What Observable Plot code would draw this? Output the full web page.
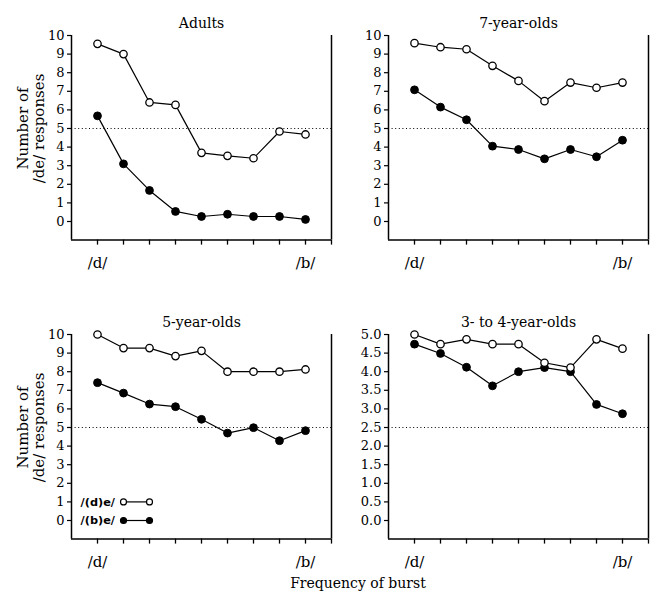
<!DOCTYPE html>
<html><head><meta charset="utf-8">
<script src="https://cdn.jsdelivr.net/npm/d3@7"></script>
<script src="https://cdn.jsdelivr.net/npm/@observablehq/plot@0.6"></script>
<style>
body{margin:0;background:#fff;}
#fig{position:relative;width:654px;height:597px;background:#fff;overflow:hidden;}
#fig svg{position:absolute;overflow:visible;background:transparent;}
#xlabel{position:absolute;left:258px;width:200px;top:575px;text-align:center;font:14px "DejaVu Serif";color:#000;}
</style></head>
<body><div id="fig"><div id="xlabel"></div></div>
<script>
// ---- data ----
const steps = [1, 2, 3, 4, 5, 6, 7, 8, 9];
const panelTitles = ["Adults", "7-year-olds", "5-year-olds", "3- to 4-year-olds"];
const adultsD = [9.55, 9.0, 6.4, 6.27, 3.69, 3.53, 3.4, 4.84, 4.68];
const adultsB = [5.68, 3.1, 1.67, 0.54, 0.27, 0.39, 0.27, 0.27, 0.11];
const sevenD = [9.59, 9.37, 9.26, 8.37, 7.56, 6.47, 7.47, 7.19, 7.47];
const sevenB = [7.08, 6.15, 5.47, 4.05, 3.87, 3.37, 3.87, 3.48, 4.37];
const fiveD = [10.0, 9.27, 9.27, 8.84, 9.12, 8.0, 8.0, 8.0, 8.12];
const fiveB = [7.41, 6.85, 6.26, 6.12, 5.44, 4.7, 4.99, 4.29, 4.83];
const threeD = [5.0, 4.74, 4.87, 4.74, 4.74, 4.24, 4.11, 4.87, 4.62];
const threeB = [4.74, 4.49, 4.12, 3.62, 4.0, 4.11, 4.0, 3.12, 2.87];
const yTicks10 = [0, 1, 2, 3, 4, 5, 6, 7, 8, 9, 10];
const yTicks5 = [0, 0.5, 1, 1.5, 2, 2.5, 3, 3.5, 4, 4.5, 5];
const xTicks = [1, 2, 3, 4, 5, 6, 7, 8, 9, 10];
const xEndSteps = [1, 9];
const xEndLabels = ["/d/", "/b/"];
const legendLabels = ["/(d)e/", "/(b)e/"];
const yLabel = "Number of\n/de/ responses";
const xLabel = "Frequency of burst";

// ---- drawing ----
const rows = (arr) => steps.map((s, i) => ({step: s, value: arr[i]}));

function panel({title, dVals, bVals, yMax, yTicks, fmt, showYLabel, showLegend, height}) {
  const yMin = -yMax / 10;
  const chance = yMax / 2;
  const marks = [
    Plot.ruleY([chance], {x1: 0, x2: 10, stroke: "#000", strokeWidth: 1.1, strokeDasharray: "1,2.6"}),
    Plot.ruleX([0], {y1: yMin, y2: yMax, stroke: "#000", strokeWidth: 1.5}),
    Plot.ruleX([10], {y1: yMin, y2: yMax, stroke: "#000", strokeWidth: 1.5}),
    Plot.ruleY([yMin], {x1: 0, x2: 10, stroke: "#000", strokeWidth: 1.5}),
    Plot.axisY({ticks: yTicks, tickSize: 4, tickPadding: 3, tickFormat: fmt, label: null, fontSize: 13, strokeWidth: 1.2}),
    Plot.axisX({ticks: xTicks, tickSize: 5, tickFormat: () => "", label: null, strokeWidth: 1.3}),
    Plot.text(xEndSteps, {x: d => d, y: yMin, dy: 23, text: (d, i) => xEndLabels[i], fontSize: 15, textAnchor: "middle"}),
    Plot.text([title], {frameAnchor: "top", dy: -17, fontSize: 14}),
    Plot.line(rows(bVals), {x: "step", y: "value", stroke: "#000", strokeWidth: 1.2}),
    Plot.line(rows(dVals), {x: "step", y: "value", stroke: "#000", strokeWidth: 1.2}),
    Plot.dot(rows(bVals), {x: "step", y: "value", r: 3.9, fill: "#000", stroke: "#000", strokeWidth: 1}),
    Plot.dot(rows(dVals), {x: "step", y: "value", r: 3.7, fill: "#fff", stroke: "#000", strokeWidth: 1.3})
  ];
  if (showYLabel) {
    marks.push(Plot.text([yLabel], {x: 0, y: yMax / 2, dx: -41, rotate: -90, fontSize: 15, lineHeight: 1.07, textAnchor: "middle"}));
  }
  if (showLegend) {
    const legendY = [1, 0];
    const legendRows = legendLabels.map((l, i) => ({label: l, y: legendY[i], filled: i === 1}));
    marks.push(
      Plot.text(legendRows, {x: 0.35, y: "y", text: "label", textAnchor: "start", fontFamily: "DejaVu Sans", fontWeight: "bold", fontSize: 11.3}),
      Plot.link(legendRows, {x1: 2, x2: 3, y1: "y", y2: "y", stroke: "#000", strokeWidth: 1.2}),
      Plot.dot(legendRows.flatMap(r => [{...r, x: 2}, {...r, x: 3}]), {x: "x", y: "y", r: 3, fill: d => d.filled ? "#000" : "#fff", stroke: "#000", strokeWidth: 1.2})
    );
  }
  return Plot.plot({
    width: 335,
    height,
    marginLeft: 71,
    marginRight: 4,
    marginTop: 35,
    marginBottom: height - 239.6,
    x: {domain: [0, 10]},
    y: {domain: [yMin, yMax]},
    style: {fontFamily: "DejaVu Serif", fontSize: "13px", color: "#000", background: "transparent"},
    marks
  });
}

const fig = document.getElementById("fig");
const specs = [
  {title: panelTitles[0], dVals: adultsD, bVals: adultsB, yMax: 10, yTicks: yTicks10, fmt: d3.format("d"), showYLabel: true, showLegend: false, height: 290, left: 0, top: 0},
  {title: panelTitles[1], dVals: sevenD, bVals: sevenB, yMax: 10, yTicks: yTicks10, fmt: d3.format("d"), showYLabel: false, showLegend: false, height: 290, left: 317, top: 0},
  {title: panelTitles[2], dVals: fiveD, bVals: fiveB, yMax: 10, yTicks: yTicks10, fmt: d3.format("d"), showYLabel: true, showLegend: true, height: 298, left: 0, top: 299},
  {title: panelTitles[3], dVals: threeD, bVals: threeB, yMax: 5, yTicks: yTicks5, fmt: d3.format(".1f"), showYLabel: false, showLegend: false, height: 298, left: 317, top: 299}
];
for (const s of specs) {
  const svg = panel(s);
  svg.style.left = s.left + "px";
  svg.style.top = s.top + "px";
  fig.appendChild(svg);
}
document.getElementById("xlabel").textContent = xLabel;
</script>
</body></html>
